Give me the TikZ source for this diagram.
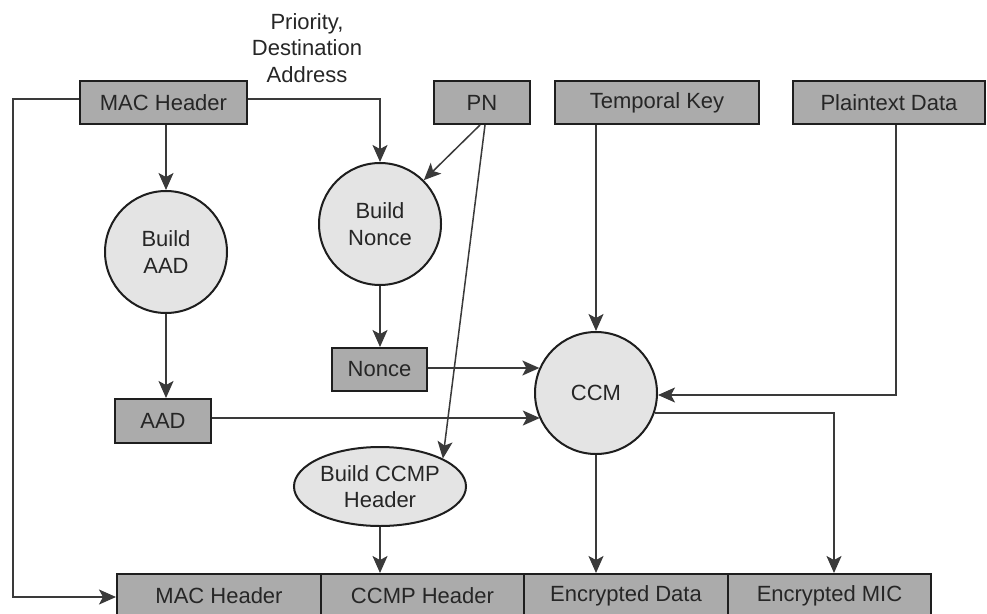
\documentclass[tikz,border=0pt]{standalone}
\usepackage{fontspec}
\setmainfont{Liberation Sans}
\usetikzlibrary{arrows.meta,shapes.geometric}
\definecolor{boxgray}{HTML}{ABABAB}
\definecolor{bubble}{HTML}{E4E4E4}
\definecolor{edge}{HTML}{1E1E1E}
\definecolor{wire}{HTML}{3A3A3A}
\definecolor{ink}{HTML}{262626}
\tikzset{
  lbl/.style={text=ink, font=\fontsize{22pt}{26.5pt}\selectfont},
  field/.style={lbl, draw=edge, line width=2pt, fill=boxgray, rectangle, inner sep=0pt,
    minimum height=43pt},
  proc/.style={lbl, draw=edge, line width=2pt, fill=bubble, circle, inner sep=0pt,
    minimum size=122pt, align=center},
  oval/.style={lbl, draw=edge, line width=2pt, fill=bubble, ellipse, inner sep=0pt,
    minimum width=172pt, minimum height=79pt, align=center},
  flow/.style={draw=wire, line width=1.5pt,
    -{Stealth[length=17pt,width=15pt,inset=4pt]}},
}
\begin{document}
\begin{tikzpicture}[x=1pt,y=-1pt]
\clip (0,0) rectangle (987,613);
\fill[white] (0,0) rectangle (987,613);

% label over the MAC header branch
\node[lbl, align=center] (prio) at (307,48) {Priority,\\Destination\\Address};

% input fields
\node[field, minimum width=167pt] (mac) at (163.5,102.5) {MAC Header};
\node[field, minimum width=96pt]  (pn)  at (482,102.5) {PN};
\node[field, minimum width=204pt] (tk)  at (657,102.5) {Temporal Key};
\node[field, minimum width=192pt] (pd)  at (889,102.5) {Plaintext Data};

% processing steps
\node[proc] (baad)   at (166,252) {Build\\AAD};
\node[proc] (bnonce) at (380,224) {Build\\Nonce};
\node[proc] (ccm)    at (596,393) {CCM};
\node[oval] (bccmp)  at (380,486.5) {Build CCMP\\Header};

% intermediate values
\node[field, minimum width=95pt] (nonce) at (379.5,369.5) {Nonce};
\node[field, minimum width=96pt, minimum height=44pt] (aad) at (163,421) {AAD};

% output frame
\node[field, minimum width=204pt] (omac)  at (219,595.5)   {MAC Header};
\node[field, minimum width=203pt] (occmp) at (422.5,595.5) {CCMP Header};
\node[field, minimum width=204pt] (oenc)  at (626,595.5)   {Encrypted Data};
\node[field, minimum width=203pt] (omic)  at (829.5,595.5) {Encrypted MIC};

% connectors
\coordinate (leftrail) at (13,0);
\draw[flow] ([yshift=3.5pt]mac.west) -| ([yshift=-1.5pt]leftrail |- omac.west)
  -- ([yshift=-1.5pt]omac.west);
\draw[flow] ([yshift=3.5pt]mac.east) -| (bnonce.north);
\draw[flow] (mac.south -| baad.north) -- (baad.north);
\draw[flow] (baad.south) -- (baad.south |- aad.north);
\draw[flow] ([xshift=-2pt]pn.south) -- (bnonce.45);
\draw[flow] ([xshift=3pt]pn.south) -- (bccmp.24);
\draw[flow] (bnonce.south) -- (bnonce.south |- nonce.north);
\draw[flow] (tk.south -| ccm.north) -- (ccm.north);
\draw[flow] ([xshift=7pt]pd.south) |- ([yshift=-2pt]ccm.east);
\draw[flow] ([yshift=1.5pt]nonce.east) -- ([yshift=1.5pt]nonce.east -| ccm.156);
\draw[flow] ([yshift=3pt]aad.east) -- ([yshift=3pt]aad.east -| ccm.205);
\draw[flow] (ccm.south) -- (ccm.south |- oenc.north);
\draw[flow] (ccm.341) -| ([xshift=4.5pt]omic.north);
\draw[flow] (bccmp.south) -- (bccmp.south |- occmp.north);
\end{tikzpicture}
\end{document}
